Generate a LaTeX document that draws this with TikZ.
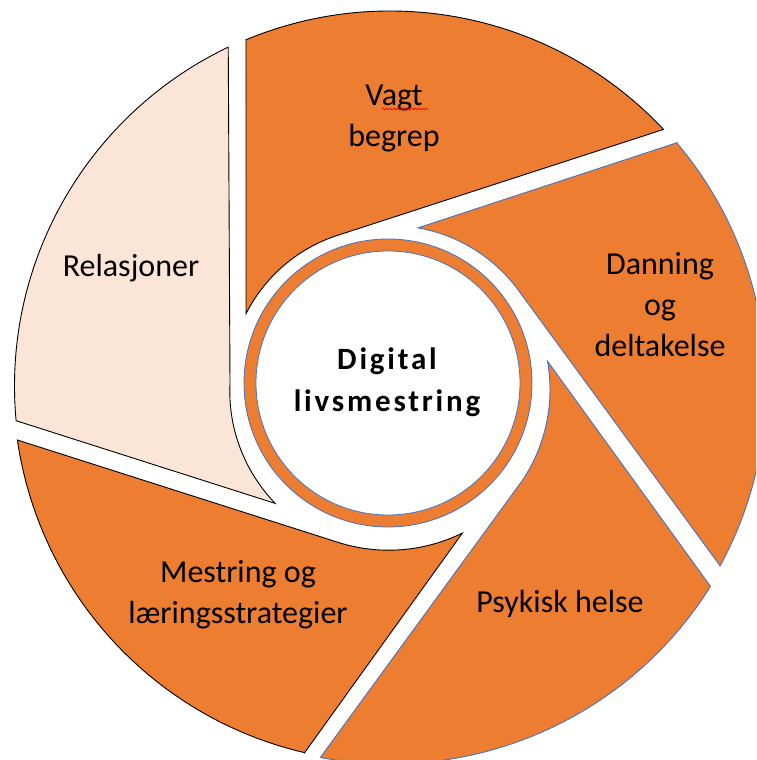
\documentclass[tikz,border=0pt]{standalone}
\usepackage{fontspec}
\setmainfont{Carlito}
\newfontfamily\centerfont[LetterSpace=9]{Carlito}
\usetikzlibrary{decorations.pathmorphing}
\definecolor{bladeorange}{HTML}{ED7D31}
\definecolor{bladepeach}{HTML}{FBE5D6}
\definecolor{edgeblue}{HTML}{4472C4}
\tikzset{
  darkblade/.style={fill=bladeorange, draw=black, line width=0.9pt, line join=miter},
  blueblade/.style={fill=bladeorange, draw=edgeblue, line width=0.9pt, line join=miter},
  lightblade/.style={fill=bladepeach, draw=black, line width=0.9pt, line join=miter},
  bladetext/.style={font=\fontsize{32}{41}\selectfont, align=center, anchor=base, text=black, inner sep=0pt},
  centertext/.style={font=\centerfont\bfseries\fontsize{31}{42}\selectfont, align=center, anchor=base, text=black, inner sep=0pt},
  ringedge/.style={draw=edgeblue, line width=0.8pt},
  squiggle/.style={draw=red, line width=0.7pt, decorate, decoration={snake, amplitude=0.9pt, segment length=3.6pt}},
}
% outer-circle centre offset (in units of 100pt) relative to ring centre
\def\ocx{0.02}
\def\ocy{-0.03}
% #1 leading-edge normal angle, #2 leading-edge distance, #3 tip radius,
% #4 trailing tangent radius, #5 outer radius (all /100pt), #6 style
\newcommand{\shutterblade}[6]{%
  \pgfmathsetmacro{\bP}{#1}%
  \pgfmathsetmacro{\bT}{#1-72}%
  \pgfmathsetmacro{\bD}{#2}%
  \pgfmathsetmacro{\bRa}{#3}%
  \pgfmathsetmacro{\bRb}{#4}%
  \pgfmathsetmacro{\bR}{#5}%
  \pgfmathsetmacro{\bUc}{cos(\bP-90)*\ocx+sin(\bP-90)*\ocy}%
  \pgfmathsetmacro{\bNc}{cos(\bP)*\ocx+sin(\bP)*\ocy}%
  \pgfmathsetmacro{\bTl}{\bUc+sqrt(\bUc*\bUc-(\bD*\bD-2*\bD*\bNc+\ocx*\ocx+\ocy*\ocy)+\bR*\bR)}%
  \pgfmathsetmacro{\bLx}{\bD*cos(\bP)+\bTl*cos(\bP-90)}%
  \pgfmathsetmacro{\bLy}{\bD*sin(\bP)+\bTl*sin(\bP-90)}%
  \pgfmathsetmacro{\bAL}{atan2(\bLy-\ocy,\bLx-\ocx)}%
  \pgfmathsetmacro{\bAtip}{\bP-acos(\bD/\bRa)}%
  \pgfmathsetmacro{\bUt}{cos(\bT-90)*\ocx+sin(\bT-90)*\ocy}%
  \pgfmathsetmacro{\bNt}{cos(\bT)*\ocx+sin(\bT)*\ocy}%
  \pgfmathsetmacro{\bTt}{\bUt+sqrt(\bUt*\bUt-(\bRb*\bRb-2*\bRb*\bNt+\ocx*\ocx+\ocy*\ocy)+\bR*\bR)}%
  \pgfmathsetmacro{\bTx}{\bRb*cos(\bT)+\bTt*cos(\bT-90)}%
  \pgfmathsetmacro{\bTy}{\bRb*sin(\bT)+\bTt*sin(\bT-90)}%
  \pgfmathsetmacro{\bAT}{atan2(\bTy-\ocy,\bTx-\ocx)}%
  \pgfmathsetmacro{\bALL}{\bAL<\bAT ? \bAL+360 : \bAL}%
  \pgfmathsetmacro{\bLxp}{\bLx*100}%
  \pgfmathsetmacro{\bLyp}{\bLy*100}%
  \pgfmathsetmacro{\bTxp}{\bTx*100}%
  \pgfmathsetmacro{\bTyp}{\bTy*100}%
  \pgfmathsetmacro{\bRap}{\bRa*100}%
  \pgfmathsetmacro{\bRbp}{\bRb*100}%
  \pgfmathsetmacro{\bRp}{\bR*100}%
  \draw[#6] (\bLxp pt,\bLyp pt)
    -- plot[domain=0:1, samples=40, variable=\bq]
       ({\bAtip+(\bT-\bAtip)*\bq}:{(\bRap+(\bRbp-\bRap)*\bq)*1pt})
    -- (\bTxp pt,\bTyp pt)
    arc[start angle=\bAT, end angle=\bALL, radius=\bRp pt] -- cycle;
}
\begin{document}
\begin{tikzpicture}
  \useasboundingbox (-388pt,-377pt) rectangle (368pt,383pt);
  \clip (-388pt,-377pt) rectangle (368pt,383pt);
  \fill[white] (-388pt,-377pt) rectangle (368pt,383pt);

  % shutter blades
  \shutterblade{180}{1.42}{1.58}{1.56}{3.75}{darkblade}     % Vagt begrep
  \shutterblade{108.2}{1.38}{1.58}{1.60}{3.76}{blueblade}   % Danning og deltakelse
  \shutterblade{35.9}{1.42}{1.61}{1.66}{3.78}{blueblade}    % Psykisk helse
  \shutterblade{-35.7}{1.48}{1.675}{1.67}{3.765}{darkblade} % Mestring og laeringsstrategier
  \shutterblade{-107.7}{1.49}{1.65}{1.58}{3.755}{lightblade}% Relasjoner

  % centre ring
  \fill[bladeorange, even odd rule] (0,0) circle[radius=144pt] circle[radius=132pt];
  \draw[ringedge] (0,0) circle[radius=144pt];
  \draw[ringedge, fill=white] (0,0) circle[radius=132pt];

  % texts (anchor = baseline of the last line)
  \node[bladetext] (vagt) at (6pt,236pt) {Vagt\\begrep};
  \node[bladetext] (danning) at (272pt,26pt) {Danning\\og\\deltakelse};
  \node[bladetext] (psykisk) at (172pt,-229pt) {Psykisk helse};
  \node[bladetext] (mestring) at (-150pt,-240pt) {Mestring og\\læringsstrategier};
  \node[bladetext] (relasjoner) at (-257pt,106pt) {Relasjoner};
  \node[centertext] (digital) at (-1pt,-29pt) {Digital\\livsmestring};

  % spell-check underline under "Vagt"
  \coordinate (sqA) at (-6pt,274pt);
  \coordinate (sqB) at (40pt,274pt);
  \draw[squiggle] (sqA) -- (sqB);
\end{tikzpicture}
\end{document}
